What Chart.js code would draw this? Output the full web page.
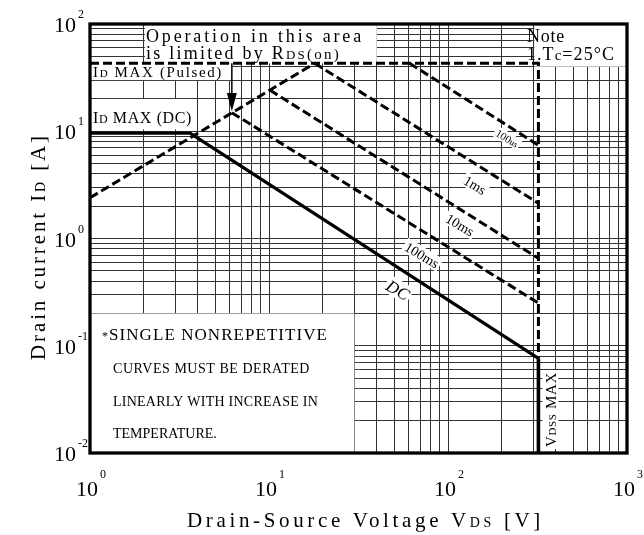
<!DOCTYPE html>
<html><head><meta charset="utf-8">
<script src="https://cdn.jsdelivr.net/npm/chart.js@4.4.0/dist/chart.umd.min.js"></script>
<style>html,body{margin:0;padding:0;background:#fff}</style>
</head><body>
<canvas id="c" width="644" height="535"></canvas>
<script>
// ---------- data ----------
const xDecades = [1, 10, 100, 1000];
const xExponents = ['0', '1', '2', '3'];
const yDecades = [0.01, 0.1, 1, 10, 100];
const yExponents = ['-2', '-1', '0', '1', '2'];

const rdsLimit    = [{x:1, y:2.4}, {x:18, y:43}];
const pulsedLimit = [{x:1, y:43}, {x:320, y:43}, {x:320, y:0.0764}];
const sweep100us  = [{x:61, y:43}, {x:320, y:7.4}];
const sweep1ms    = [{x:18, y:43}, {x:320, y:2.13}];
const sweep10ms   = [{x:10.1, y:24.2}, {x:320, y:0.653}];
const sweep100ms  = [{x:6.2, y:14.9}, {x:320, y:0.25}];
const dcLine      = [{x:1, y:9.6}, {x:3.62, y:9.6}, {x:320, y:0.0764}];
const vdssLine    = [{x:320, y:0.0764}, {x:320, y:0.01}];

const curveLabels = [
  {text:'100', sub:'us', x:214, y:8.6, size:11, italic:false},
  {text:'1ms', x:141.5, y:3.15, size:14, italic:false},
  {text:'10ms', x:116.7, y:1.34, size:14, italic:false},
  {text:'100ms', x:71.6, y:0.70, size:14, italic:false},
  {text:'DC', x:52.6, y:0.331, size:17, italic:true}
];
const arrow = {x:6.2, from:43, headBase:22.7, tip:15.4};

// grid ticks (1..9 per decade)
function logGrid(lo, hi){ const a=[]; for(let d=lo; d<hi*0.999; d*=10){ for(let m=1;m<10;m++) a.push(+(m*d).toPrecision(3)); } a.push(hi); return a; }
const xGrid = logGrid(1, 1000);
const yGrid = logGrid(0.01, 100);

const SERIF = "'Liberation Serif', 'DejaVu Serif', serif";
function F(size, extra){ return (extra?extra+' ':'') + size + 'px ' + SERIF; }

function measureRich(ctx, segs, ls){ let w=0; for(const s of segs){ ctx.font=s.f; ctx.letterSpacing=(ls||0)+'px'; w+=ctx.measureText(s.t).width; } ctx.letterSpacing='0px'; return w; }
function drawRich(ctx, x, y, segs, ls){ let cx=x; for(const s of segs){ ctx.font=s.f; ctx.letterSpacing=(ls||0)+'px'; ctx.fillText(s.t, cx, y+(s.dy||0)); cx+=ctx.measureText(s.t).width; } ctx.letterSpacing='0px'; }
function fitRich(ctx, x, y, segs, target){
  const w0 = measureRich(ctx, segs, 0);
  const n = segs.reduce((a,s)=>a+s.t.length,0);
  const ls = Math.max(0,(target - w0)/n);
  drawRich(ctx, x, y, segs, ls);
}

const maskPlugin = {
  id:'masks',
  beforeDatasetsDraw(chart){
    const ctx=chart.ctx, X=chart.scales.x, Y=chart.scales.y;
    const boxes = [
      [2, 40, 43, 100],      // Operation text
      [300, 1000, 40, 100],  // Note
      [1, 6.2, 30, 43],      // ID MAX (Pulsed)
      [1, 3.7, 10.4, 20],    // ID MAX (DC)
      [1, 30, 0.01, 0.2]     // bottom note
    ];
    ctx.save(); ctx.fillStyle='#fff';
    for(const b of boxes){
      const x0=X.getPixelForValue(b[0]), x1=X.getPixelForValue(b[1]);
      const y0=Y.getPixelForValue(b[3]), y1=Y.getPixelForValue(b[2]);
      ctx.fillRect(x0+1, y0, x1-x0-1, y1-y0);
    }
    ctx.restore();
  }
};

const decoPlugin = {
  id:'deco',
  afterDraw(chart){
    const ctx=chart.ctx, X=chart.scales.x, Y=chart.scales.y, A=chart.chartArea;
    ctx.save();
    ctx.fillStyle='#000'; ctx.strokeStyle='#000'; ctx.textBaseline='alphabetic';

    // curve labels
    for(const c of curveLabels){
      const px=X.getPixelForValue(c.x), py=Y.getPixelForValue(c.y);
      ctx.save(); ctx.translate(px,py); ctx.rotate(31*Math.PI/180);
      const segs=[{t:c.text, f:F(c.size, c.italic?'italic':'')}];
      if(c.sub) segs.push({t:c.sub, f:F(c.size-2)});
      const w=measureRich(ctx,segs,0);
      ctx.fillStyle='#fff'; ctx.fillRect(-w/2-2, -c.size*0.55, w+4, c.size*1.05);
      ctx.fillStyle='#000';
      drawRich(ctx, -w/2, c.size*0.35, segs, 0);
      ctx.restore();
    }

    // arrow
    const ax=X.getPixelForValue(arrow.x);
    const ay0=Y.getPixelForValue(arrow.from), ay1=Y.getPixelForValue(arrow.headBase), ay2=Y.getPixelForValue(arrow.tip);
    ctx.lineWidth=1.5; ctx.beginPath(); ctx.moveTo(ax,ay0); ctx.lineTo(ax,ay1); ctx.stroke();
    ctx.beginPath(); ctx.moveTo(ax-5,ay1); ctx.lineTo(ax+5,ay1); ctx.lineTo(ax,ay2); ctx.closePath(); ctx.fill();

    // static annotations
    fitRich(ctx, 146, 42, [{t:'Operation in this area', f:F(18)}], 218);
    fitRich(ctx, 146, 59, [{t:'is limited by R', f:F(18)},{t:'DS', f:F(13)},{t:'(on)', f:F(15)}], 195);
    fitRich(ctx, 527, 42, [{t:'Note', f:F(18)}], 38);
    fitRich(ctx, 527, 60, [{t:'1.T', f:F(18)},{t:'c', f:F(15)},{t:'=25°C', f:F(18)}], 88);
    fitRich(ctx, 93, 77, [{t:'I', f:F(15)},{t:'D', f:F(11)},{t:' MAX (Pulsed)', f:F(15)}], 130);
    fitRich(ctx, 93, 123, [{t:'I', f:F(16)},{t:'D', f:F(12)},{t:' MAX (DC)', f:F(16)}], 99);
    fitRich(ctx, 102, 340, [{t:'*', f:F(12)},{t:'SINGLE NONREPETITIVE', f:F(17)}], 226);
    fitRich(ctx, 113, 373, [{t:'CURVES MUST BE DERATED', f:F(14)}], 197);
    fitRich(ctx, 113, 406, [{t:'LINEARLY WITH INCREASE IN', f:F(14)}], 205);
    fitRich(ctx, 113, 438, [{t:'TEMPERATURE.', f:F(14)}], 100);

    // VDSS MAX (rotated)
    const vx=X.getPixelForValue(320);
    ctx.save(); ctx.translate(vx+18, Y.getPixelForValue(0.01)-6); ctx.rotate(-Math.PI/2);
    ctx.fillStyle='#fff'; ctx.fillRect(-2,-14,79,16); ctx.fillStyle='#000';
    fitRich(ctx, 0, 0, [{t:'V', f:F(15)},{t:'DSS', f:F(11)},{t:' MAX', f:F(15)}], 75);
    ctx.restore();

    // frame
    ctx.lineWidth=3.3;
    ctx.strokeRect(A.left, A.top, A.right-A.left, A.bottom-A.top);

    // tick labels
    ctx.fillStyle='#000';
    yDecades.forEach((v,i)=>{
      const ty=Y.getPixelForValue(v);
      ctx.font=F(22); ctx.textAlign='right'; ctx.fillText('10', 76, ty+8);
      ctx.font=F(12); ctx.textAlign='left'; ctx.fillText(yExponents[i], 78, ty-6);
    });
    xDecades.forEach((v,i)=>{
      const tx=X.getPixelForValue(v)-3;
      ctx.font=F(22); ctx.textAlign='center'; ctx.fillText('10', tx, 496);
      ctx.font=F(12); ctx.textAlign='left'; ctx.fillText(xExponents[i], tx+13, 478);
    });
    ctx.textAlign='left';

    // axis titles
    fitRich(ctx, 187, 527, [{t:'Drain-Source Voltage V', f:F(21)},{t:'DS', f:F(14)},{t:' [V]', f:F(21)}], 357);
    ctx.save(); ctx.translate(45, 360); ctx.rotate(-Math.PI/2);
    fitRich(ctx, 0, 0, [{t:'Drain current I', f:F(21)},{t:'D', f:F(14)},{t:' [A]', f:F(21)}], 227);
    ctx.restore();

    ctx.restore();
  }
};

function ds(label, data, dashed, width){
  return {label, data, showLine:true, pointRadius:0, borderColor:'#000', backgroundColor:'#000',
    borderWidth:width||3, borderDash: dashed?[9,4]:[], fill:false, tension:0};
}

new Chart(document.getElementById('c'), {
  type:'scatter',
  data:{datasets:[
    ds('RDS(on) limit', rdsLimit, true),
    ds('ID MAX (Pulsed)', pulsedLimit, true),
    ds('100us', sweep100us, true),
    ds('1ms', sweep1ms, true),
    ds('10ms', sweep10ms, true),
    ds('100ms', sweep100ms, true),
    ds('DC', dcLine, false, 3.2),
    ds('VDSS MAX', vdssLine, false, 3.6)
  ]},
  options:{
    responsive:false, animation:false, events:[],
    layout:{padding:{left:90, top:24, right:17, bottom:82}},
    plugins:{legend:{display:false}, tooltip:{enabled:false}},
    scales:{
      x:{type:'logarithmic', min:1, max:1000,
         afterBuildTicks:s=>{ s.ticks = xGrid.map(v=>({value:v})); },
         ticks:{display:false}, grid:{color:'#333', lineWidth:1, drawTicks:false}, border:{display:false}},
      y:{type:'logarithmic', min:0.01, max:100,
         afterBuildTicks:s=>{ s.ticks = yGrid.map(v=>({value:v})); },
         ticks:{display:false}, grid:{color:'#333', lineWidth:1, drawTicks:false}, border:{display:false}}
    }
  },
  plugins:[maskPlugin, decoPlugin]
});
</script>
</body></html>
